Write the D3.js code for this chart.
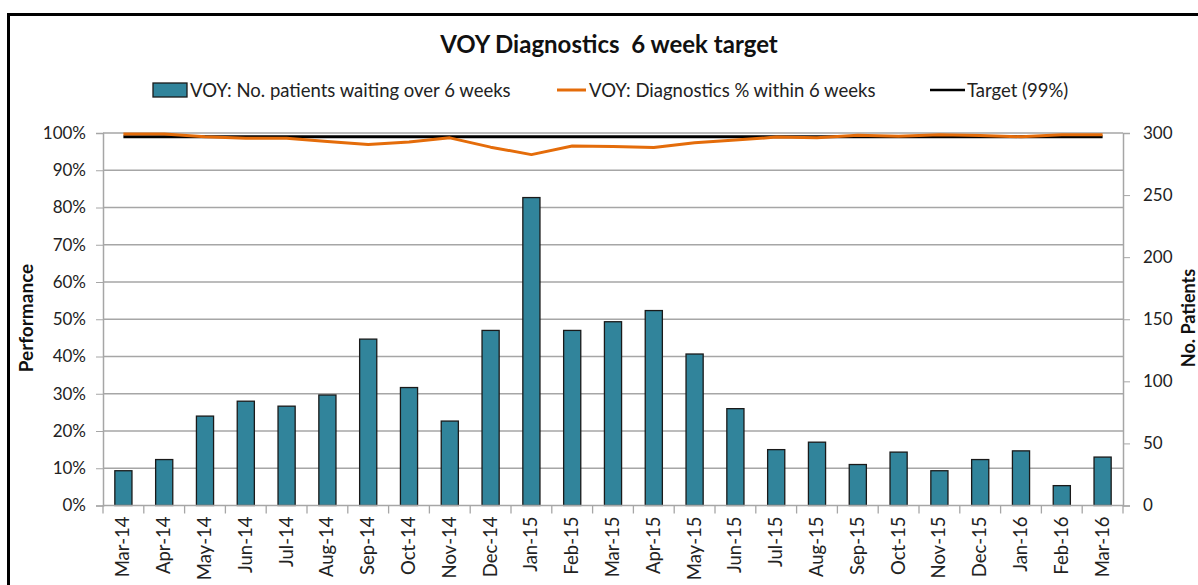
<!DOCTYPE html>
<html>
<head>
<meta charset="utf-8">
<script src="https://cdn.jsdelivr.net/npm/d3@7"></script>
<style>
  body { margin: 0; background: #fff; }
  svg { display: block; font-family: Lato, "Open Sans", sans-serif; }
</style>
</head>
<body>
<svg id="chart"></svg>
<script>
var months = ["Mar-14","Apr-14","May-14","Jun-14","Jul-14","Aug-14","Sep-14","Oct-14","Nov-14","Dec-14","Jan-15","Feb-15","Mar-15","Apr-15","May-15","Jun-15","Jul-15","Aug-15","Sep-15","Oct-15","Nov-15","Dec-15","Jan-16","Feb-16","Mar-16"];
var patientsOver6 = [28,37,72,84,80,89,134,95,68,141,248,141,148,157,122,78,45,51,33,43,28,37,44,16,39];
var pctWithin6 = [99.7,99.7,99.0,98.6,98.6,97.7,96.9,97.6,98.7,96.2,94.2,96.5,96.4,96.1,97.4,98.1,98.9,98.7,99.4,99.1,99.5,99.3,99.0,99.5,99.5];
var target = 99;
var pctTicks = [0,10,20,30,40,50,60,70,80,90,100];
var patientTicks = [0,50,100,150,200,250,300];

var W = 1198, H = 585;
var plotLeft = 103, plotRight = 1123, plotTop = 133, plotBottom = 505.5;

var svg = d3.select("#chart").attr("width", W).attr("height", H);

// outer frame
svg.append("rect")
    .attr("x", 8.5).attr("y", 14.5)
    .attr("width", W + 20).attr("height", H + 20)
    .attr("fill", "none").attr("stroke", "#000").attr("stroke-width", 3);

var x = d3.scaleBand().domain(months).range([plotLeft, plotRight]).paddingInner(0.58).paddingOuter(0.29);
var xGrid = d3.scaleBand().domain(months).range([plotLeft, plotRight]).padding(0);
var yPct = d3.scaleLinear().domain([0, 100]).range([plotBottom, plotTop]);
var yNum = d3.scaleLinear().domain([0, 300]).range([plotBottom, plotTop]);

// gridlines
svg.append("g").selectAll("line")
    .data(pctTicks.slice(1))
    .enter().append("line")
    .attr("x1", plotLeft).attr("x2", plotRight)
    .attr("y1", d => yPct(d)).attr("y2", d => yPct(d))
    .attr("stroke", "#a6a6a6").attr("stroke-width", 1.5);

// left axis
var gLeft = svg.append("g")
    .attr("transform", "translate(" + plotLeft + ",0)")
    .call(d3.axisLeft(yPct).tickValues(pctTicks).tickSize(7).tickPadding(10).tickFormat(d => d + "%"));
gLeft.select(".domain").attr("stroke", "#a6a6a6").attr("stroke-width", 1.5);
gLeft.selectAll(".tick line").attr("stroke", "#a6a6a6");
gLeft.selectAll("text").attr("font-size", 17).attr("font-family", "Lato, sans-serif").attr("fill", "#222");

// right axis
var gRight = svg.append("g")
    .attr("transform", "translate(" + plotRight + ",0)")
    .call(d3.axisRight(yNum).tickValues(patientTicks).tickSize(7).tickPadding(13));
gRight.select(".domain").attr("stroke", "#a6a6a6").attr("stroke-width", 1.5);
gRight.selectAll(".tick line").attr("stroke", "#a6a6a6");
gRight.selectAll("text").attr("font-size", 17).attr("font-family", "Lato, sans-serif").attr("fill", "#222");

// bars
svg.append("g").selectAll("rect")
    .data(months)
    .enter().append("rect")
    .attr("x", (d) => x(d))
    .attr("y", (d, i) => yNum(patientsOver6[i]))
    .attr("width", x.bandwidth())
    .attr("height", (d, i) => plotBottom - yNum(patientsOver6[i]))
    .attr("fill", "#31849b")
    .attr("stroke", "#1a1a1a")
    .attr("stroke-width", 1.3);

// bottom axis
var gBottom = svg.append("g")
    .attr("transform", "translate(0," + plotBottom + ")");
gBottom.append("line")
    .attr("x1", plotLeft).attr("x2", plotRight)
    .attr("stroke", "#a6a6a6").attr("stroke-width", 1.5);
gBottom.selectAll(".sep")
    .data(months.concat(["end"]))
    .enter().append("line")
    .attr("class", "sep")
    .attr("x1", (d, i) => plotLeft + i * xGrid.bandwidth())
    .attr("x2", (d, i) => plotLeft + i * xGrid.bandwidth())
    .attr("y1", 0).attr("y2", 8)
    .attr("stroke", "#a6a6a6").attr("stroke-width", 1.3);
gBottom.selectAll(".lbl")
    .data(months)
    .enter().append("text")
    .attr("class", "lbl")
    .attr("transform", d => "translate(" + (xGrid(d) + xGrid.bandwidth() / 2 + 6) + ",11) rotate(-90)")
    .attr("text-anchor", "end")
    .attr("font-size", 18.5)
    .attr("fill", "#222")
    .text(d => d);

// target line
var cx = d => x(d) + x.bandwidth() / 2;
svg.append("line")
    .attr("x1", cx(months[0])).attr("x2", cx(months[months.length - 1]))
    .attr("y1", yPct(target)).attr("y2", yPct(target))
    .attr("stroke", "#000").attr("stroke-width", 3);

// percentage line
var line = d3.line()
    .x((d, i) => cx(months[i]))
    .y(d => yPct(d));
svg.append("path")
    .datum(pctWithin6)
    .attr("d", line)
    .attr("fill", "none")
    .attr("stroke", "#e46c0a")
    .attr("stroke-width", 3)
    .attr("stroke-linejoin", "round");

// title
svg.append("text")
    .attr("x", 609).attr("y", 53)
    .attr("text-anchor", "middle")
    .attr("font-size", 24).attr("font-weight", "bold")
    .attr("fill", "#111")
    .attr("xml:space", "preserve")
    .text("VOY Diagnostics  6 week target");

// legend
var leg = svg.append("g").attr("font-size", 18.5).attr("fill", "#222");
leg.append("rect").attr("x", 153).attr("y", 83).attr("width", 34).attr("height", 14)
    .attr("fill", "#31849b").attr("stroke", "#1a1a1a").attr("stroke-width", 1.3);
leg.append("text").attr("x", 190).attr("y", 97).text("VOY: No. patients waiting over 6 weeks");
leg.append("line").attr("x1", 557).attr("x2", 586).attr("y1", 90).attr("y2", 90)
    .attr("stroke", "#e46c0a").attr("stroke-width", 3);
leg.append("text").attr("x", 589).attr("y", 97).text("VOY: Diagnostics % within 6 weeks");
leg.append("line").attr("x1", 930).attr("x2", 965).attr("y1", 90).attr("y2", 90)
    .attr("stroke", "#000").attr("stroke-width", 2.5);
leg.append("text").attr("x", 967).attr("y", 97).text("Target (99%)");

// axis titles
svg.append("text")
    .attr("transform", "translate(33,318) rotate(-90)")
    .attr("text-anchor", "middle")
    .attr("font-size", 19).attr("font-weight", "bold").attr("fill", "#111")
    .text("Performance");
svg.append("text")
    .attr("transform", "translate(1195,318) rotate(-90)")
    .attr("text-anchor", "middle")
    .attr("font-size", 18).attr("font-weight", "bold").attr("fill", "#111")
    .text("No. Patients");
</script>
</body>
</html>
